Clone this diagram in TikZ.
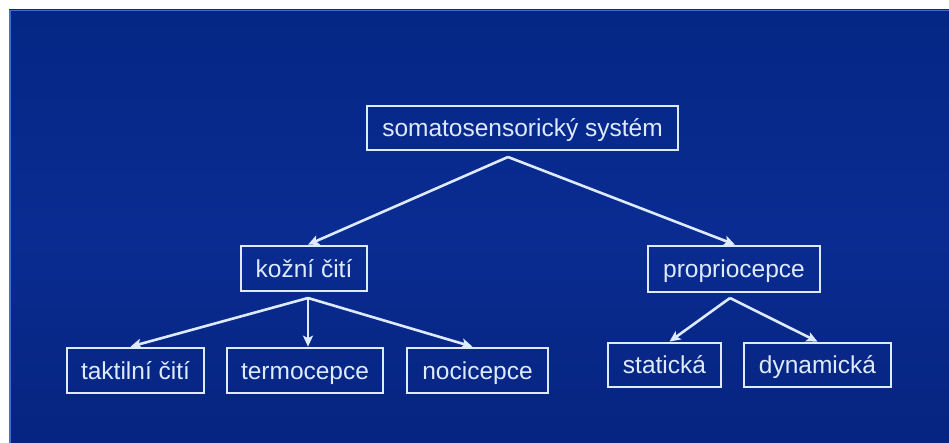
\documentclass[tikz,border=0pt]{standalone}
\usepackage{fontspec}
\setmainfont{Liberation Sans}
\usetikzlibrary{arrows.meta}
\definecolor{linec}{RGB}{222,234,255}
\definecolor{bgtop}{RGB}{4,38,132}
\definecolor{bgmid}{RGB}{10,44,146}
\definecolor{bgbot}{RGB}{6,36,128}
\definecolor{edgec}{RGB}{70,110,200}
\tikzset{
  box/.style={draw=linec, line width=2.7pt, text=linec, inner sep=0pt,
    text height=17.5pt, text depth=0pt,
    font=\fontsize{24.5}{28}\selectfont},
  conn/.style={draw=linec, line width=2.6pt,
    -{Stealth[length=11pt,width=10pt,inset=2.5pt]}},
}
\begin{document}
\begin{tikzpicture}[x=1pt,y=-1pt]
\useasboundingbox (0,0) rectangle (949,443);
\fill[white] (0,0) rectangle (949,443);
\shade[top color=bgtop, bottom color=bgbot, middle color=bgmid] (9,10) rectangle (949,443);
\draw[edgec, line width=1.5pt] (9.75,443) -- (9.75,10.75) -- (949,10.75);

\node[box, minimum width=311pt, minimum height=44pt] (top) at (522.5,128) {somatosensorický systém};
\node[box, minimum width=126pt, minimum height=45pt] (kozni) at (304,268.5) {kožní čití};
\node[box, minimum width=172pt, minimum height=46pt] (prop) at (734,269) {propriocepce};
\node[box, minimum width=137pt, minimum height=45pt] (takt) at (135.5,370.5) {taktilní čití};
\node[box, minimum width=156pt, minimum height=45pt] (termo) at (305,370.5) {termocepce};
\node[box, minimum width=141pt, minimum height=45pt] (noci) at (477.5,370.5) {nocicepce};
\node[box, minimum width=113pt, minimum height=44pt] (stat) at (664.5,365) {statická};
\node[box, minimum width=147pt, minimum height=44pt] (dyn) at (817.5,365) {dynamická};

\coordinate (a0) at (508,157);
\coordinate (a1) at (308,298);
\coordinate (a2) at (730,298);

\draw[conn] (a0) -- ([xshift=4pt]kozni.north);
\draw[conn] (a0) -- ([xshift=1pt]prop.north);
\draw[conn] (a1) -- ([xshift=-5pt]takt.north);
\draw[conn] (a1) -- ([xshift=3pt]termo.north);
\draw[conn] (a1) -- ([xshift=-5pt]noci.north);
\draw[conn] (a2) -- ([xshift=5pt]stat.north);
\draw[conn] (a2) -- ([xshift=0pt]dyn.north);
\end{tikzpicture}
\end{document}
